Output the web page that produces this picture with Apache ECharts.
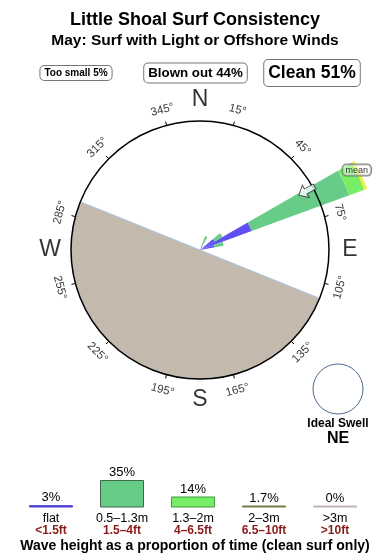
<!DOCTYPE html>
<html><head><meta charset="utf-8">
<script src="https://cdn.jsdelivr.net/npm/echarts@6/dist/echarts.min.js"></script>
<style>html,body{margin:0;padding:0;background:#fff}#c{width:390px;height:560px}</style>
</head><body><div id="c"></div>
<script>
// ---- data ----
const roseBins = [25, 55, 65, 75];            // bin centre bearings (10° bins)
const roseFlat = [5, 17, 55, 15];             // <1.5ft
const roseSmall = [10, 9, 104, 9];            // 1.5-4ft
const roseMid = [0, 0, 16, 0];                // 4-6.5ft
const roseBig = [0, 0, 3, 0];                 // 6.5-10ft
const coastStart = 112, coastEnd = 292;       // land sector bearings
const meanDir = 61;
const tickAngles = [15,45,75,105,135,165,195,225,255,285,315,345];
const compass = [['N',0],['E',90],['S',180],['W',270]];
const sizeNames = ['flat','0.5–1.3m','1.3–2m','2–3m','>3m'];
const feetNames = ['<1.5ft','1.5–4ft','4–6.5ft','6.5–10ft','>10ft'];
const sizePct = [3, 35, 14, 1.7, 0];
const sizeColors = ['#4f41d6','#66cc88','#77ee66','#8f9a5e','#c4b3b3'];
const sizeBorders = ['#4f41d6','#3d6b4a','#3f9a3a','#6b7540','#c4b3b3'];
const summary = [['Too small 5%',10,76],['Blown out 44%',13.3,195.5],['Clean 51%',17.5,312]];

const FONT = 'Liberation Sans, Arial, Helvetica, sans-serif';
const CX = 200, CY = 250, R = 129, RD = 200;
const binCats = Array.from({length:36},(_,i)=>String(i*10));
function build(vals){const a=new Array(36).fill(0);roseBins.forEach((b,i)=>{a[Math.floor(b/10)]=vals[i];});return a;}
function rot(a){return (a>90 && a<270) ? 180-a : (a<=90 ? -a : 360-a);}
const roseColors = ['#5f4ff5','#66cc88','#77ee66','#eeee3a'];
const roseSeries = [roseFlat, roseSmall, roseMid, roseBig].map((v,i)=>({
  type:'bar', coordinateSystem:'polar', polarIndex:1, stack:'rose',
  data: build(v), barCategoryGap:'2%', itemStyle:{color:roseColors[i]}, z:3, silent:true
}));

const chart = echarts.init(document.getElementById('c'));
chart.setOption({
  animation:false,
  backgroundColor:'#fff',
  textStyle:{fontFamily:FONT},
  polar:[
    {center:[CX,CY], radius:R},
    {center:[CX,CY], radius:RD},
    {center:[CX,CY], radius:RD}
  ],
  angleAxis:[
    {polarIndex:0, type:'value', min:0, max:360, interval:30, startAngle:90-tickAngles[0], clockwise:true,
     axisLine:{lineStyle:{color:'#000', width:1.5}}, axisTick:{length:4, lineStyle:{color:'#000', width:1}},
     axisLabel:{show:false}, splitLine:{show:false}, z:10},
    {polarIndex:1, type:'category', data:binCats, startAngle:90, clockwise:true, show:false},
    {polarIndex:2, type:'value', min:0, max:360, startAngle:90, clockwise:true, show:false}
  ],
  radiusAxis:[
    {polarIndex:0, min:0, max:R, show:false},
    {polarIndex:1, min:0, max:RD, show:false},
    {polarIndex:2, min:0, max:RD, show:false}
  ],
  grid:{left:15.5, right:19.5, top:480, bottom:52.5},
  xAxis:{type:'category', data:sizeNames, axisLine:{show:false}, axisTick:{show:false},
    axisLabel:{margin:5, interval:0, formatter:(v,i)=>`{a|${v}}\n{b|${feetNames[i]}}`,
      rich:{a:{fontSize:12.5, color:'#000', lineHeight:12, fontFamily:FONT},
            b:{fontSize:12, color:'#8b1a1a', fontWeight:'bold', lineHeight:12, fontFamily:FONT}}}},
  yAxis:{type:'value', min:0, max:35, show:false},
  series:[
    {type:'pie', center:[CX,CY], radius:[0,R], startAngle:90-coastStart, clockwise:true, silent:true, z:1,
     label:{show:false}, labelLine:{show:false}, emphasis:{disabled:true},
     data:[{value:coastEnd-coastStart, itemStyle:{color:'#c4b9ad', borderColor:'#a9c8ea', borderWidth:1}},
           {value:360-(coastEnd-coastStart), itemStyle:{color:'rgba(0,0,0,0)'}}]},
    ...roseSeries,
    {type:'scatter', coordinateSystem:'polar', polarIndex:2, symbolSize:0, silent:true, z:11,
     label:{show:true, position:'inside', formatter:'{b}', fontSize:11.5, color:'#000', fontFamily:FONT},
     data: tickAngles.map(a=>({name:a+'°', value:[145,a], label:{rotate:rot(a)}}))},
    {type:'scatter', coordinateSystem:'polar', polarIndex:2, symbolSize:0, silent:true, z:11,
     label:{show:true, position:'inside', formatter:'{b}', fontSize:23, color:'#000', fontFamily:FONT},
     data: compass.map(c=>({name:c[0], value:[150,c[1]]}))},
    {type:'scatter', coordinateSystem:'polar', polarIndex:2, silent:true, z:12,
     symbol:'path://M5,0 L10,7 L7,7 L7,16 L3,16 L3,7 L0,7 Z', symbolSize:[14,18], symbolRotate:-(meanDir+180),
     itemStyle:{color:'#fff', borderColor:'#1c2a3a', borderWidth:1},
     data:[[122, meanDir]]},
    {type:'scatter', coordinateSystem:'polar', polarIndex:2, symbolSize:0, silent:true, z:12,
     label:{show:true, position:'inside', formatter:'mean', fontSize:9, color:'#000', fontFamily:FONT,
       backgroundColor:'rgba(255,255,255,0.55)', borderColor:'#666', borderWidth:1, borderRadius:4, padding:[1,3]},
     data:[[176, 63]]},
    {type:'bar', data:sizePct.map((v,i)=>({value:v, itemStyle:{color:sizeColors[i], borderColor:sizeBorders[i], borderWidth:1}})),
     barWidth:44, barMinHeight:2, silent:true,
     label:{show:true, position:'top', distance:1, formatter:(p)=>p.value+'%', fontSize:13, color:'#000', fontFamily:FONT}}
  ],
  graphic:[
    {type:'text', style:{text:'Little Shoal Surf Consistency', x:195, y:20, align:'center', verticalAlign:'middle', font:'bold 18px '+FONT, fill:'#000'}},
    {type:'text', style:{text:'May: Surf with Light or Offshore Winds', x:195, y:41, align:'center', verticalAlign:'middle', font:'bold 15.5px '+FONT, fill:'#000'}},
    ...summary.map(s=>({type:'text', style:{text:s[0], x:s[2], y:73, align:'center', verticalAlign:'middle', font:'bold '+s[1]+'px '+FONT, fill:'#000',
      borderColor:'#777', borderWidth:1, borderRadius:4, padding:[Math.round(s[1]*0.2),4], backgroundColor:'#fff'}})),
    {type:'circle', shape:{cx:338, cy:389, r:25}, style:{fill:'none', stroke:'#4d6b8f', lineWidth:1}},
    {type:'text', style:{text:'Ideal Swell', x:338, y:424, align:'center', verticalAlign:'middle', font:'bold 12px '+FONT, fill:'#000'}},
    {type:'text', style:{text:'NE', x:338, y:439, align:'center', verticalAlign:'middle', font:'bold 16px '+FONT, fill:'#000'}},
    {type:'text', style:{text:'Wave height as a proportion of time (clean surf only)', x:195, y:546, align:'center', verticalAlign:'middle', font:'bold 14px '+FONT, fill:'#000'}}
  ]
});
</script></body></html>
